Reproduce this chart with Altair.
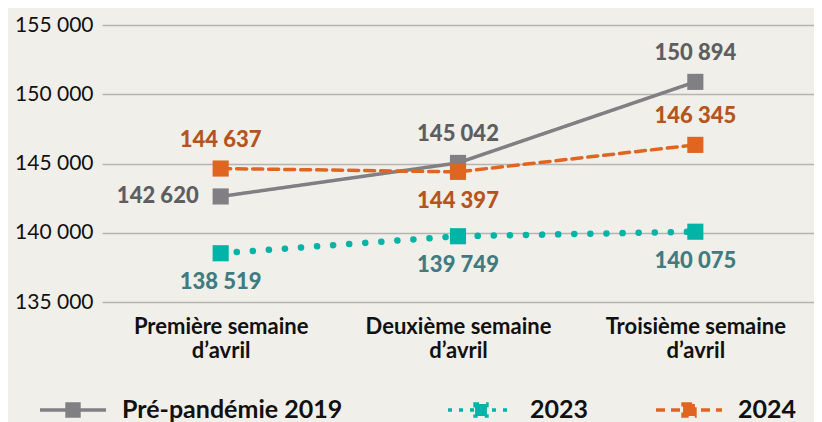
import altair as alt
import pandas as pd

weeks = ["Première semaine d’avril", "Deuxième semaine d’avril", "Troisième semaine d’avril"]
series = ["Pré-pandémie 2019", "2023", "2024"]
values_2019 = [142620, 145042, 150894]
values_2023 = [138519, 139749, 140075]
values_2024 = [144637, 144397, 146345]
y_ticks = [135000, 140000, 145000, 150000, 155000]

line_colors = ["#808084", "#00B5A8", "#E06520"]
label_colors = ["#5E5E62", "#3F7B80", "#B5541C"]

rows = []
for s, vals in zip(series, [values_2019, values_2023, values_2024]):
    for w, v in zip(weeks, vals):
        rows.append({"week": w, "series": s, "value": v})
df = pd.DataFrame(rows)

# label placement (annotation layout, not data)
side = {
    ("Pré-pandémie 2019", weeks[0]): "left",
    ("Pré-pandémie 2019", weeks[1]): "above",
    ("Pré-pandémie 2019", weeks[2]): "above",
    ("2024", weeks[0]): "above",
    ("2024", weeks[1]): "below",
    ("2024", weeks[2]): "above",
    ("2023", weeks[0]): "below",
    ("2023", weeks[1]): "below",
    ("2023", weeks[2]): "below",
}
df["side"] = [side[(s, w)] for s, w in zip(df["series"], df["week"])]
df["order"] = df["series"].map({"Pré-pandémie 2019": 0, "2023": 1, "2024": 2})

FONT = "Lato"
BG = "#F0EFE9"

x_enc = alt.X(
    "week:N",
    sort=weeks,
    scale=alt.Scale(paddingInner=0, paddingOuter=0),
    axis=alt.Axis(
        title=None,
        labelAngle=0,
        labelFont=FONT,
        labelFontSize=22,
        labelFontWeight="bold",
        labelColor="#111111",
        labelPadding=14,
        labelLineHeight=24,
        labelLimit=400,
        ticks=False,
        domain=False,
        labelExpr="[replace(datum.value, ' d’avril', ''), 'd’avril']",
    ),
)
y_enc = alt.Y(
    "value:Q",
    scale=alt.Scale(domain=[135000, 155000], nice=False, zero=False),
    axis=alt.Axis(
        title=None,
        values=y_ticks,
        labelFont=FONT,
        labelFontSize=21,
        labelColor="#111111",
        labelPadding=9,
        ticks=False,
        domain=False,
        grid=True,
        gridColor="#B4B4B4",
        gridWidth=1.5,
        labelExpr="replace(format(datum.value, ','), ',', ' ')",
    ),
)

# per-series line style and legend placement (layout, not data)
line_styles = {
    "Pré-pandémie 2019": dict(strokeWidth=3.5, strokeDash=[1, 0], legX=-64, legDash=[1, 0]),
    "2023": dict(strokeWidth=6.5, strokeDash=[0.1, 16], legX=344, legDash=[4, 7]),
    "2024": dict(strokeWidth=3.5, strokeDash=[10, 6], legX=552, legDash=[9, 6]),
}

SYMBOL = "M-1,0L1,0M-0.18,-0.18L0.18,-0.18L0.18,0.18L-0.18,0.18Z"

layers = []
for s, c in zip(series, line_colors):
    st = line_styles[s]
    leg = alt.Legend(
        title=None,
        orient="none",
        legendX=st["legX"],
        legendY=350,
        symbolType=SYMBOL,
        symbolSize=4356,
        symbolStrokeWidth=3.5,
        symbolFillColor=c,
        symbolStrokeColor=c,
        symbolDash=st["legDash"],
        labelFont=FONT,
        labelFontSize=25,
        labelFontWeight="bold",
        labelColor="#111111",
        labelOffset=14,
        labelLimit=400,
    )
    layers.append(
        alt.Chart(df)
        .transform_filter(alt.datum.series == s)
        .mark_line(strokeCap="round", strokeWidth=st["strokeWidth"], strokeDash=st["strokeDash"])
        .encode(
            x=x_enc,
            y=y_enc,
            color=alt.Color("series:N", scale=alt.Scale(domain=[s], range=[c]), legend=leg),
        )
    )

points = alt.Chart(df).mark_point(shape="square", filled=True, size=260, opacity=1).encode(
    x=alt.X("week:N", sort=weeks),
    y="value:Q",
    color=alt.Color("series:N", scale=alt.Scale(domain=series, range=line_colors), legend=None),
    order="order:Q",
)

def text_layer(which, **kw):
    return alt.Chart(df).transform_filter(
        alt.datum.side == which
    ).transform_calculate(
        lab="replace(format(datum.value, ','), ',', ' ')"
    ).mark_text(font=FONT, fontSize=22, fontWeight=900, **kw).encode(
        x=alt.X("week:N", sort=weeks),
        y="value:Q",
        text="lab:N",
        color=alt.Color("series:N", scale=alt.Scale(domain=series, range=label_colors), legend=None),
    )

above = text_layer("above", dy=-29, baseline="middle")
below = text_layer("below", dy=29, baseline="middle")
left = text_layer("left", dx=-22, align="right", baseline="middle")

chart = alt.layer(*layers, points, above, below, left).resolve_scale(color="independent").properties(
    width=712,
    height=277,
    background=BG,
    padding={"left": 94, "top": 17, "right": 0, "bottom": 120},
    autosize=alt.AutoSizeParams(type="none"),
).configure_view(stroke=None)

chart.save("out.html", embed_options={"renderer": "svg", "actions": False})
